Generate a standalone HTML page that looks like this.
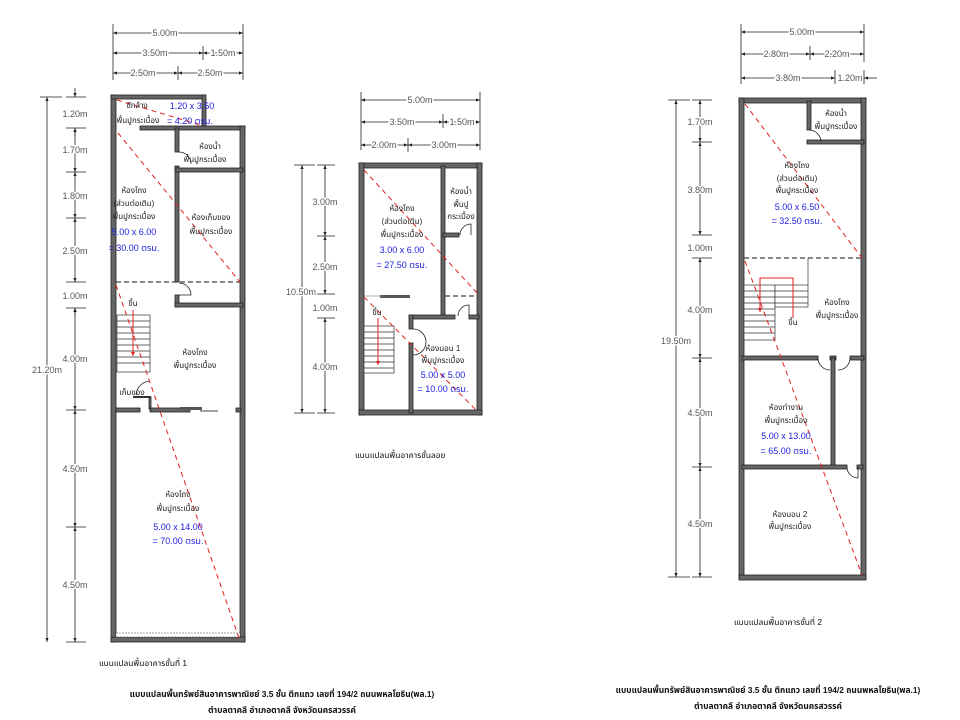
<!DOCTYPE html>
<html><head><meta charset="utf-8"><style>
html,body{margin:0;padding:0;background:#fff;width:960px;height:720px;overflow:hidden}
svg{display:block}
text{font-family:"Liberation Sans","DejaVu Sans","Noto Sans Thai",sans-serif}
.d{font-size:9px;fill:#555;stroke:#fff;stroke-width:3px;paint-order:stroke}
.l{font-size:8px;fill:#222;text-anchor:middle}
.b{font-size:9px;fill:#2020e0;text-anchor:middle}
.c{font-size:8.4px;fill:#111;font-weight:bold}
.w{fill:#666;stroke:#222;stroke-width:0.8}
.dl{stroke:#222;stroke-width:0.8;fill:none}
.rd{stroke:#e02020;stroke-width:1;stroke-dasharray:5,4;fill:none}
.dash{stroke:#444;stroke-width:1.2;stroke-dasharray:5,3;fill:none}
.st{stroke:#333;stroke-width:0.7;fill:#fff}
</style></head><body>
<svg width="960" height="720" viewBox="0 0 960 720" xmlns="http://www.w3.org/2000/svg">
<defs>
<marker id="a" viewBox="0 0 10 10" refX="10" refY="5" markerWidth="5" markerHeight="5" orient="auto-start-reverse"><path d="M0,1L10,5L0,9z" fill="#222"/></marker>
<marker id="r" viewBox="0 0 10 10" refX="10" refY="5" markerWidth="4" markerHeight="4" orient="auto"><path d="M0,0L10,5L0,10z" fill="#e02020"/></marker>
</defs>

<!-- ============ PLAN 1 ============ -->
<g class="dl">
<line x1="113" y1="24" x2="113" y2="80"/><line x1="243" y1="24" x2="243" y2="80"/>
<line x1="203" y1="46" x2="203" y2="60"/><line x1="178" y1="66" x2="178" y2="80"/>
<line x1="113" y1="33" x2="243" y2="33" marker-start="url(#a)" marker-end="url(#a)"/>
<line x1="113" y1="53" x2="203" y2="53" marker-start="url(#a)" marker-end="url(#a)"/>
<line x1="203" y1="53" x2="243" y2="53" marker-start="url(#a)" marker-end="url(#a)"/>
<line x1="113" y1="73" x2="178" y2="73" marker-start="url(#a)" marker-end="url(#a)"/>
<line x1="178" y1="73" x2="243" y2="73" marker-start="url(#a)" marker-end="url(#a)"/>
<line x1="40" y1="97" x2="62" y2="97"/>
<line x1="47" y1="97" x2="47" y2="642" marker-start="url(#a)" marker-end="url(#a)"/>
<line x1="66" y1="642" x2="86" y2="642"/>
<line x1="66" y1="97" x2="86" y2="97"/><line x1="66" y1="128" x2="86" y2="128"/><line x1="66" y1="172" x2="86" y2="172"/><line x1="66" y1="218" x2="86" y2="218"/><line x1="66" y1="282" x2="86" y2="282"/><line x1="66" y1="308" x2="86" y2="308"/><line x1="66" y1="410" x2="86" y2="410"/><line x1="66" y1="527" x2="86" y2="527"/>
<line x1="75" y1="88" x2="75" y2="97" marker-end="url(#a)"/>
<line x1="75" y1="137" x2="75" y2="128" marker-end="url(#a)"/>
<line x1="75" y1="128" x2="75" y2="172" marker-start="url(#a)" marker-end="url(#a)"/>
<line x1="75" y1="172" x2="75" y2="218" marker-start="url(#a)" marker-end="url(#a)"/>
<line x1="75" y1="218" x2="75" y2="282" marker-start="url(#a)" marker-end="url(#a)"/>
<line x1="75" y1="317" x2="75" y2="308" marker-end="url(#a)"/>
<line x1="75" y1="308" x2="75" y2="410" marker-start="url(#a)" marker-end="url(#a)"/>
<line x1="75" y1="410" x2="75" y2="527" marker-start="url(#a)" marker-end="url(#a)"/>
<line x1="75" y1="527" x2="75" y2="642" marker-start="url(#a)" marker-end="url(#a)"/>
</g>
<text class="d" x="165" y="36" text-anchor="middle">5.00m</text>
<text class="d" x="155" y="56" text-anchor="middle">3.50m</text>
<text class="d" x="223" y="56" text-anchor="middle">1.50m</text>
<text class="d" x="143" y="76" text-anchor="middle">2.50m</text>
<text class="d" x="210" y="76" text-anchor="middle">2.50m</text>
<text class="d" x="75" y="117" text-anchor="middle">1.20m</text>
<text class="d" x="75" y="153" text-anchor="middle">1.70m</text>
<text class="d" x="75" y="199" text-anchor="middle">1.80m</text>
<text class="d" x="75" y="254" text-anchor="middle">2.50m</text>
<text class="d" x="75" y="299" text-anchor="middle">1.00m</text>
<text class="d" x="75" y="362" text-anchor="middle">4.00m</text>
<text class="d" x="75" y="472" text-anchor="middle">4.50m</text>
<text class="d" x="75" y="588" text-anchor="middle">4.50m</text>
<text class="d" x="47" y="373" text-anchor="middle">21.20m</text>

<rect class="w" x="111" y="95" width="5" height="547"/>
<rect class="w" x="111" y="95" width="94" height="4"/>
<rect class="w" x="202" y="95" width="4" height="34"/>
<rect class="w" x="140" y="126" width="105" height="4"/>
<rect class="w" x="240" y="126" width="5" height="516"/>
<rect class="w" x="111" y="637" width="134" height="5"/>
<rect x="116" y="633" width="124" height="4" fill="#fff" stroke="#444" stroke-width="0.6" stroke-dasharray="2,1"/>
<rect class="w" x="175" y="128" width="4" height="24"/>
<rect class="w" x="175" y="166" width="4" height="116"/>
<rect class="w" x="175" y="168" width="68" height="4"/>
<rect class="w" x="175" y="295" width="4" height="12"/>
<rect class="w" x="175" y="303" width="68" height="4"/>
<line class="dash" x1="116" y1="282" x2="240" y2="282"/>
<path d="M179,152 a12,12 0 0 1 12,12" fill="none" stroke="#222" stroke-width="0.8"/>
<path d="M179,283 a12,12 0 0 1 12,12 L179,295" fill="none" stroke="#222" stroke-width="0.8"/>
<rect class="w" x="116" y="408" width="24" height="4"/>
<rect class="w" x="150" y="408" width="40" height="4"/>
<rect x="180" y="407" width="22" height="3" fill="#555"/>
<line x1="200" y1="411" x2="218" y2="411" stroke="#444" stroke-width="1"/>
<rect class="w" x="236" y="408" width="5" height="4"/>
<g class="st"><rect x="117" y="315" width="33" height="57"/>
<line x1="117" y1="321" x2="150" y2="321"/><line x1="117" y1="327" x2="150" y2="327"/><line x1="117" y1="333" x2="150" y2="333"/><line x1="117" y1="339" x2="150" y2="339"/><line x1="117" y1="345" x2="150" y2="345"/><line x1="117" y1="351" x2="150" y2="351"/><line x1="117" y1="357" x2="150" y2="357"/><line x1="117" y1="363" x2="150" y2="363"/></g>
<line x1="133" y1="310" x2="133" y2="356" stroke="#e02020" stroke-width="1" marker-end="url(#r)"/>
<rect class="w" x="149" y="397" width="2" height="12"/>
<path d="M150,381 a15,15 0 0 0 -14,14" fill="none" stroke="#222" stroke-width="0.8"/>
<rect x="133" y="396" width="18" height="2" fill="#333"/>
<line class="rd" x1="117" y1="100" x2="200" y2="125"/>
<line class="rd" x1="118" y1="133" x2="240" y2="282"/>
<line class="rd" x1="116" y1="285" x2="239" y2="638"/>
<text class="l" x="137" y="108">ซักล้าง</text>
<text class="l" x="138" y="123">พื้นปูกระเบื้อง</text>
<text class="b" x="192" y="109">1.20 x 3.50</text>
<text class="b" x="190" y="124">= 4.20 ตรม.</text>
<text class="l" x="210" y="149">ห้องน้ำ</text>
<text class="l" x="205" y="162">พื้นปูกระเบื้อง</text>
<text class="l" x="134" y="193">ห้องโถง</text>
<text class="l" x="134" y="206">(ส่วนต่อเติม)</text>
<text class="l" x="134" y="219">พื้นปูกระเบื้อง</text>
<text class="b" x="134" y="235">5.00 x 6.00</text>
<text class="b" x="134" y="251">= 30.00 ตรม.</text>
<text class="l" x="211" y="220">ห้องเก็บของ</text>
<text class="l" x="211" y="234">พื้นปูกระเบื้อง</text>
<text class="l" x="133" y="306">ขึ้น</text>
<text class="l" x="195" y="355">ห้องโถง</text>
<text class="l" x="195" y="368">พื้นปูกระเบื้อง</text>
<text class="l" x="132" y="395">เก็บของ</text>
<text class="l" x="178" y="497">ห้องโถง</text>
<text class="l" x="178" y="511">พื้นปูกระเบื้อง</text>
<text class="b" x="178" y="530">5.00 x 14.00</text>
<text class="b" x="178" y="544">= 70.00 ตรม.</text>
<text class="c" x="99" y="666" style="font-weight:normal">แบบแปลนพื้นอาคารชั้นที่ 1</text>
<text class="c" x="282" y="697" text-anchor="middle">แบบแปลนพื้นทรัพย์สินอาคารพาณิชย์ 3.5 ชั้น ตึกแถว เลขที่ 194/2 ถนนพหลโยธิน(พล.1)</text>
<text class="c" x="282" y="713" text-anchor="middle">ตำบลตาคลี อำเภอตาคลี จังหวัดนครสวรรค์</text>

<!-- ============ PLAN 2 ============ -->
<g class="dl">
<line x1="361" y1="92" x2="361" y2="150"/><line x1="480" y1="92" x2="480" y2="150"/>
<line x1="443" y1="114" x2="443" y2="128"/><line x1="408" y1="138" x2="408" y2="152"/>
<line x1="361" y1="100" x2="480" y2="100" marker-start="url(#a)" marker-end="url(#a)"/>
<line x1="361" y1="122" x2="443" y2="122" marker-start="url(#a)" marker-end="url(#a)"/>
<line x1="443" y1="122" x2="480" y2="122" marker-start="url(#a)" marker-end="url(#a)"/>
<line x1="361" y1="145" x2="408" y2="145" marker-start="url(#a)" marker-end="url(#a)"/>
<line x1="408" y1="145" x2="480" y2="145" marker-start="url(#a)" marker-end="url(#a)"/>
<line x1="294" y1="165" x2="315" y2="165"/><line x1="294" y1="413" x2="315" y2="413"/>
<line x1="302" y1="165" x2="302" y2="413" marker-start="url(#a)" marker-end="url(#a)"/>
<line x1="317" y1="165" x2="335" y2="165"/><line x1="317" y1="236" x2="335" y2="236"/><line x1="317" y1="294" x2="335" y2="294"/><line x1="317" y1="318" x2="335" y2="318"/><line x1="317" y1="413" x2="335" y2="413"/>
<line x1="325" y1="165" x2="325" y2="236" marker-start="url(#a)" marker-end="url(#a)"/>
<line x1="325" y1="236" x2="325" y2="294" marker-start="url(#a)" marker-end="url(#a)"/>
<line x1="325" y1="318" x2="325" y2="413" marker-start="url(#a)" marker-end="url(#a)"/>
</g>
<text class="d" x="420" y="103" text-anchor="middle">5.00m</text>
<text class="d" x="402" y="125" text-anchor="middle">3.50m</text>
<text class="d" x="462" y="125" text-anchor="middle">1.50m</text>
<text class="d" x="384" y="148" text-anchor="middle">2.00m</text>
<text class="d" x="444" y="148" text-anchor="middle">3.00m</text>
<text class="d" x="325" y="205" text-anchor="middle">3.00m</text>
<text class="d" x="325" y="270" text-anchor="middle">2.50m</text>
<text class="d" x="325" y="311" text-anchor="middle">1.00m</text>
<text class="d" x="325" y="370" text-anchor="middle">4.00m</text>
<text class="d" x="301" y="295" text-anchor="middle">10.50m</text>

<rect class="w" x="359" y="163" width="123" height="5"/>
<rect class="w" x="359" y="163" width="5" height="252"/>
<rect class="w" x="477" y="163" width="5" height="252"/>
<rect class="w" x="359" y="410" width="123" height="5"/>
<rect class="w" x="441" y="166" width="4" height="152"/>
<rect class="w" x="443" y="233" width="16" height="4"/>
<path d="M460,235 a11,11 0 0 1 11,-11 L471,235" fill="none" stroke="#222" stroke-width="0.8"/>
<line class="dash" x1="445" y1="296" x2="478" y2="296"/>
<rect x="380" y="295" width="30" height="3" fill="#555"/>
<line x1="364" y1="296" x2="382" y2="296" stroke="#999" stroke-width="0.8"/>
<rect class="w" x="409" y="315" width="46" height="4"/>
<rect class="w" x="469" y="315" width="10" height="4"/>
<rect class="w" x="409" y="315" width="4" height="14"/>
<rect class="w" x="409" y="343" width="4" height="70"/>
<path d="M458,316 a11,11 0 0 1 11,-11 L469,316" fill="none" stroke="#222" stroke-width="0.8"/>
<path d="M413,329 a13,13 0 0 1 0,26" fill="none" stroke="#222" stroke-width="0.8"/>
<g class="st"><rect x="364" y="326" width="30" height="47"/>
<line x1="364" y1="332" x2="394" y2="332"/><line x1="364" y1="338" x2="394" y2="338"/><line x1="364" y1="344" x2="394" y2="344"/><line x1="364" y1="350" x2="394" y2="350"/><line x1="364" y1="356" x2="394" y2="356"/><line x1="364" y1="362" x2="394" y2="362"/><line x1="364" y1="368" x2="394" y2="368"/></g>
<line x1="378" y1="318" x2="378" y2="365" stroke="#e02020" stroke-width="1" marker-end="url(#r)"/>
<line class="rd" x1="364" y1="170" x2="478" y2="294"/>
<line class="rd" x1="364" y1="297" x2="478" y2="412"/>
<text class="l" x="402" y="211">ห้องโถง</text>
<text class="l" x="402" y="224">(ส่วนต่อเติม)</text>
<text class="l" x="402" y="237">พื้นปูกระเบื้อง</text>
<text class="b" x="402" y="253">3.00 x 6.00</text>
<text class="b" x="402" y="268">= 27.50 ตรม.</text>
<text class="l" x="461" y="194">ห้องน้ำ</text>
<text class="l" x="461" y="207">พื้นปู</text>
<text class="l" x="461" y="219">กระเบื้อง</text>
<text class="l" x="377" y="315">ขึ้น</text>
<text class="l" x="443" y="351">ห้องนอน 1</text>
<text class="l" x="443" y="363">พื้นปูกระเบื้อง</text>
<text class="b" x="443" y="378">5.00 x 5.00</text>
<text class="b" x="443" y="392">= 10.00 ตรม.</text>
<text class="c" x="355" y="458" style="font-weight:normal">แบบแปลนพื้นอาคารชั้นลอย</text>

<!-- ============ PLAN 3 ============ -->
<g class="dl">
<line x1="741" y1="24" x2="741" y2="84"/><line x1="864" y1="24" x2="864" y2="62"/>
<line x1="810" y1="46" x2="810" y2="60"/><line x1="835" y1="70" x2="835" y2="84"/><line x1="864" y1="70" x2="864" y2="84"/>
<line x1="741" y1="32" x2="864" y2="32" marker-start="url(#a)" marker-end="url(#a)"/>
<line x1="741" y1="54" x2="810" y2="54" marker-start="url(#a)" marker-end="url(#a)"/>
<line x1="810" y1="54" x2="864" y2="54" marker-start="url(#a)" marker-end="url(#a)"/>
<line x1="741" y1="78" x2="835" y2="78" marker-start="url(#a)" marker-end="url(#a)"/>
<line x1="877" y1="78" x2="864" y2="78" marker-end="url(#a)"/>
<line x1="668" y1="100" x2="690" y2="100"/><line x1="668" y1="577" x2="690" y2="577"/>
<line x1="676" y1="100" x2="676" y2="577" marker-start="url(#a)" marker-end="url(#a)"/>
<line x1="692" y1="100" x2="712" y2="100"/><line x1="692" y1="142" x2="712" y2="142"/><line x1="692" y1="235" x2="712" y2="235"/><line x1="692" y1="258" x2="712" y2="258"/><line x1="692" y1="358" x2="712" y2="358"/><line x1="692" y1="467" x2="712" y2="467"/><line x1="692" y1="577" x2="712" y2="577"/>
<line x1="700" y1="100" x2="700" y2="142" marker-start="url(#a)" marker-end="url(#a)"/>
<line x1="700" y1="142" x2="700" y2="235" marker-start="url(#a)" marker-end="url(#a)"/>
<line x1="700" y1="258" x2="700" y2="358" marker-start="url(#a)" marker-end="url(#a)"/>
<line x1="700" y1="358" x2="700" y2="467" marker-start="url(#a)" marker-end="url(#a)"/>
<line x1="700" y1="467" x2="700" y2="577" marker-start="url(#a)" marker-end="url(#a)"/>
</g>
<text class="d" x="802" y="35" text-anchor="middle">5.00m</text>
<text class="d" x="776" y="57" text-anchor="middle">2.80m</text>
<text class="d" x="837" y="57" text-anchor="middle">2.20m</text>
<text class="d" x="788" y="81" text-anchor="middle">3.80m</text>
<text class="d" x="850" y="81" text-anchor="middle">1.20m</text>
<text class="d" x="700" y="125" text-anchor="middle">1.70m</text>
<text class="d" x="700" y="193" text-anchor="middle">3.80m</text>
<text class="d" x="700" y="251" text-anchor="middle">1.00m</text>
<text class="d" x="700" y="313" text-anchor="middle">4.00m</text>
<text class="d" x="700" y="416" text-anchor="middle">4.50m</text>
<text class="d" x="700" y="527" text-anchor="middle">4.50m</text>
<text class="d" x="676" y="344" text-anchor="middle">19.50m</text>

<rect class="w" x="739" y="98" width="127" height="5"/>
<rect class="w" x="739" y="98" width="5" height="481"/>
<rect class="w" x="861" y="98" width="5" height="481"/>
<rect class="w" x="739" y="575" width="127" height="5"/>
<rect class="w" x="807" y="101" width="4" height="29"/>
<rect class="w" x="807" y="140" width="57" height="4"/>
<path d="M809,130 a12,12 0 0 1 12,12" fill="none" stroke="#222" stroke-width="0.8"/>
<line class="dash" x1="744" y1="258" x2="862" y2="258"/>
<rect class="w" x="742" y="356" width="76" height="4"/>
<rect class="w" x="830" y="356" width="6" height="4"/>
<rect class="w" x="850" y="356" width="14" height="4"/>
<path d="M818,358 a12,12 0 0 0 12,12" fill="none" stroke="#222" stroke-width="0.8"/>
<path d="M850,358 a12,12 0 0 1 -12,12" fill="none" stroke="#222" stroke-width="0.8"/>
<rect class="w" x="831" y="358" width="4" height="110"/>
<rect class="w" x="742" y="465" width="105" height="4"/>
<rect class="w" x="857" y="465" width="6" height="4"/>
<path d="M847,467 a11,11 0 0 0 11,11 L858,467" fill="none" stroke="#222" stroke-width="0.8"/>
<g class="st"><rect x="744" y="285" width="31" height="55"/><rect x="775" y="285" width="33" height="22"/>
<line x1="744" y1="291" x2="808" y2="291"/><line x1="744" y1="297" x2="808" y2="297"/><line x1="744" y1="303" x2="808" y2="303"/>
<line x1="744" y1="309" x2="775" y2="309"/><line x1="744" y1="315" x2="775" y2="315"/><line x1="744" y1="321" x2="775" y2="321"/><line x1="744" y1="327" x2="775" y2="327"/><line x1="744" y1="333" x2="775" y2="333"/>
<line x1="808" y1="258" x2="808" y2="285"/></g>
<path d="M793,318 L793,278 L760,278 L760,312" fill="none" stroke="#e02020" stroke-width="1" marker-end="url(#r)"/>
<line class="rd" x1="745" y1="104" x2="862" y2="258"/>
<line class="rd" x1="745" y1="261" x2="862" y2="575"/>
<text class="l" x="836" y="116">ห้องน้ำ</text>
<text class="l" x="836" y="129">พื้นปูกระเบื้อง</text>
<text class="l" x="797" y="168">ห้องโถง</text>
<text class="l" x="797" y="181">(ส่วนต่อเติม)</text>
<text class="l" x="797" y="193">พื้นปูกระเบื้อง</text>
<text class="b" x="797" y="210">5.00 x 6.50</text>
<text class="b" x="797" y="224">= 32.50 ตรม.</text>
<text class="l" x="837" y="305">ห้องโถง</text>
<text class="l" x="837" y="318">พื้นปูกระเบื้อง</text>
<text class="l" x="793" y="325">ขึ้น</text>
<text class="l" x="786" y="410">ห้องทำงาน</text>
<text class="l" x="786" y="423">พื้นปูกระเบื้อง</text>
<text class="b" x="786" y="439">5.00 x 13.00</text>
<text class="b" x="786" y="454">= 65.00 ตรม.</text>
<text class="l" x="790" y="517">ห้องนอน 2</text>
<text class="l" x="790" y="529">พื้นปูกระเบื้อง</text>
<text class="c" x="778" y="625" text-anchor="middle" style="font-weight:normal">แบบแปลนพื้นอาคารชั้นที่ 2</text>
<text class="c" x="768" y="693" text-anchor="middle">แบบแปลนพื้นทรัพย์สินอาคารพาณิชย์ 3.5 ชั้น ตึกแถว เลขที่ 194/2 ถนนพหลโยธิน(พล.1)</text>
<text class="c" x="768" y="709" text-anchor="middle">ตำบลตาคลี อำเภอตาคลี จังหวัดนครสวรรค์</text>
</svg>
</body></html>
